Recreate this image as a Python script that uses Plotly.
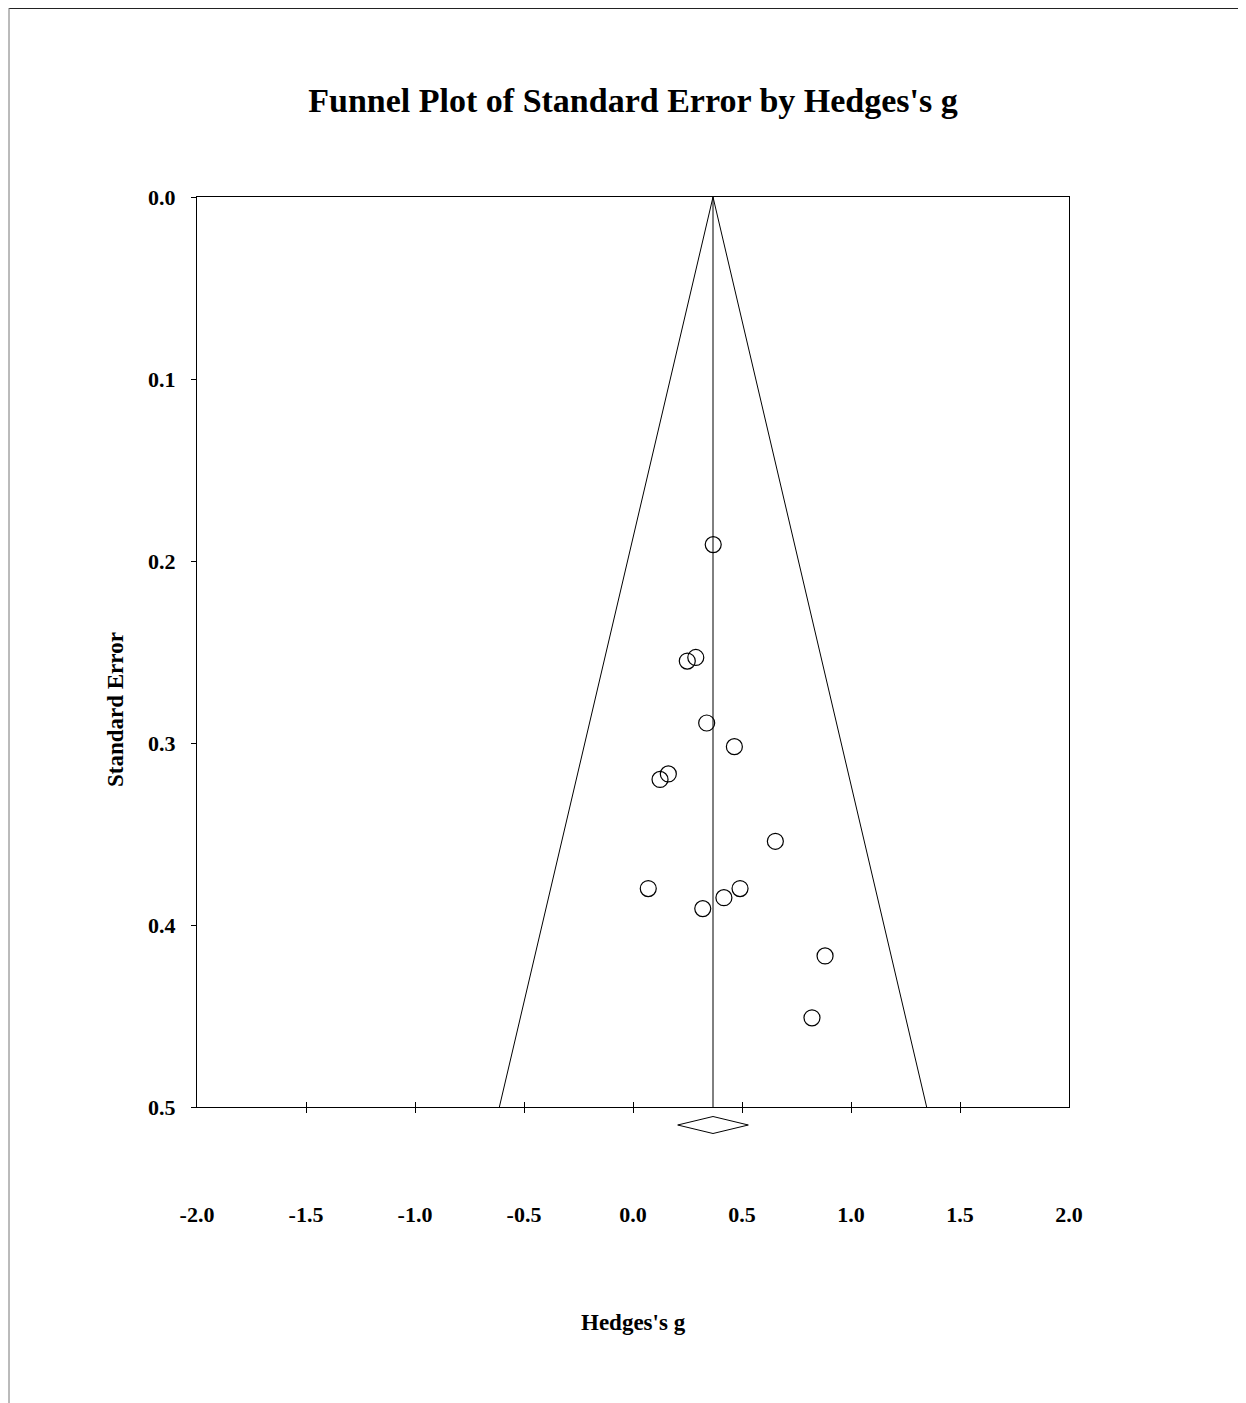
import plotly.graph_objects as go

# ---- data ----
hedges_g = [0.368, 0.288, 0.249, 0.338, 0.465, 0.162, 0.124,
            0.653, 0.070, 0.491, 0.417, 0.320, 0.881, 0.821]
std_err = [0.191, 0.253, 0.255, 0.289, 0.302, 0.317, 0.320,
           0.354, 0.380, 0.380, 0.385, 0.391, 0.417, 0.451]
pooled_g = 0.367
pooled_ci = [0.205, 0.529]
se_max = 0.5
x_ticks = [-2.0, -1.5, -1.0, -0.5, 0.0, 0.5, 1.0, 1.5, 2.0]
x_tick_labels = ["-2.0", "-1.5", "-1.0", "-0.5", "0.0", "0.5", "1.0", "1.5", "2.0"]
y_ticks = [0.0, 0.1, 0.2, 0.3, 0.4, 0.5]
y_tick_labels = ["0.0", "0.1", "0.2", "0.3", "0.4", "0.5"]

FONT = "Liberation Serif"
W, H = 1246, 1403
OFF = 8  # page offset (body margin)
# target screen positions of the plot box
SX0, SX1, SY0, SY1, SYB = 197, 1069, 197, 1107, 1143
L = SX0 - OFF
R = W - (SX1 - OFF)
T = SY0 - OFF
B = H - (SYB - OFF)
plot_w = W - L - R
plot_h = H - T - B
main_bottom = (SYB - SY1) / plot_h


def px(sx):
    return (sx - SX0) / plot_w


def py(sy):
    return (SYB - sy) / plot_h


fig = go.Figure()

# funnel (95% pseudo-confidence limits)
fig.add_trace(go.Scatter(
    x=[pooled_g - 1.96 * se_max, pooled_g, pooled_g + 1.96 * se_max],
    y=[se_max, 0, se_max], mode="lines",
    line=dict(color="black", width=1), hoverinfo="skip", showlegend=False))
# vertical pooled-effect line
fig.add_trace(go.Scatter(
    x=[pooled_g, pooled_g], y=[0, se_max], mode="lines",
    line=dict(color="black", width=1), hoverinfo="skip", showlegend=False))
# studies
fig.add_trace(go.Scatter(
    x=hedges_g, y=std_err, mode="markers",
    marker=dict(symbol="circle-open", size=16, color="black",
                line=dict(color="black", width=1.2)),
    showlegend=False, cliponaxis=False))
# summary diamond (in a thin strip below the plot)
fig.add_trace(go.Scatter(
    x=[pooled_ci[0], pooled_g, pooled_ci[1], pooled_g, pooled_ci[0]],
    y=[0, 0.472, 0, -0.472, 0], xaxis="x", yaxis="y2", mode="lines",
    line=dict(color="black", width=1), hoverinfo="skip", showlegend=False))
# dummy traces for tick overlay axes
for xa in ["x2", "x3"]:
    fig.add_trace(go.Scatter(x=[0], y=[0], xaxis=xa, yaxis="y", mode="markers",
                             marker=dict(opacity=0), hoverinfo="skip",
                             showlegend=False))

tick_font = dict(family=FONT, size=22, color="black", weight="bold")
label_font = dict(family=FONT, size=23, color="black", weight="bold")
inner_ticks = x_ticks[1:-1]

fig.update_layout(
    width=W, height=H,
    margin=dict(l=L, r=R, t=T, b=B),
    paper_bgcolor="white", plot_bgcolor="white",
    title=dict(text="Funnel Plot of Standard Error by Hedges's g",
               x=0.5, xref="paper", xanchor="center",
               y=1 - (100 - OFF) / H, yanchor="middle",
               font=dict(family=FONT, size=34, color="black", weight="bold")),
    xaxis=dict(range=[-2, 2], tickvals=x_ticks, ticktext=x_tick_labels,
               ticks="", showline=True, mirror=True, linecolor="black",
               linewidth=1, showgrid=False, zeroline=False,
               tickfont=tick_font, ticklabelstandoff=88, anchor="y"),
    xaxis2=dict(range=[-2, 2], overlaying="x", anchor="y", side="bottom",
                tickvals=inner_ticks, ticks="inside", ticklen=5,
                tickcolor="black", tickwidth=1, showticklabels=False,
                showline=False, showgrid=False, zeroline=False),
    xaxis3=dict(range=[-2, 2], overlaying="x", anchor="y", side="bottom",
                tickvals=inner_ticks, ticks="outside", ticklen=5,
                tickcolor="black", tickwidth=1, showticklabels=False,
                showline=False, showgrid=False, zeroline=False),
    yaxis=dict(range=[se_max, 0], domain=[main_bottom, 1],
               tickvals=y_ticks, ticktext=y_tick_labels,
               ticks="outside", ticklen=5, tickcolor="black", tickwidth=1,
               showline=True, mirror=True, linecolor="black", linewidth=1,
               showgrid=False, zeroline=False, tickfont=tick_font,
               ticklabelstandoff=11),
    yaxis2=dict(range=[-1, 1], domain=[0, main_bottom], anchor="x",
                visible=False, showgrid=False, zeroline=False),
    annotations=[
        dict(text="Standard Error", textangle=-90, xref="paper", yref="paper",
             x=px(115), y=py(710),
             xanchor="center", yanchor="middle", showarrow=False,
             font=label_font),
        dict(text="Hedges's g", xref="paper", yref="paper",
             x=0.5, y=py(1322),
             xanchor="center", yanchor="middle", showarrow=False,
             font=label_font),
    ],
    shapes=[
        dict(type="line", xref="paper", yref="paper",
             x0=px(9), x1=px(W + 10), y0=py(8), y1=py(8),
             line=dict(color="#222222", width=2)),
        dict(type="line", xref="paper", yref="paper",
             x0=px(9), x1=px(9), y0=py(8), y1=py(H + 10),
             line=dict(color="#777777", width=1)),
    ],
)

fig.write_html("out.html")
